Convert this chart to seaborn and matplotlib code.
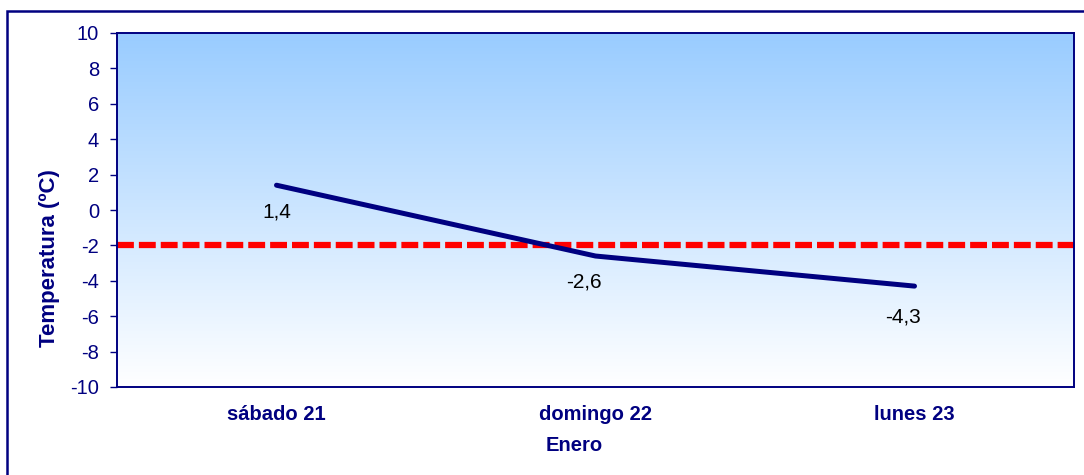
import numpy as np
import matplotlib
matplotlib.use("Agg")
import matplotlib.pyplot as plt
import seaborn as sns
from matplotlib.patches import Rectangle

# datos
dias = ["sábado 21", "domingo 22", "lunes 23"]
temperaturas = [1.4, -2.6, -4.3]
etiquetas = ["1,4", "-2,6", "-4,3"]
umbral = -2
y_ticks = list(range(-10, 11, 2))

sns.set_style("white")
plt.rcParams['font.family'] = ['Liberation Sans', 'DejaVu Sans']

navy = "#000080"

fig = plt.figure(figsize=(10.84, 4.75), dpi=100)
ax = fig.add_axes([117 / 1084, 1 - 387 / 475, (1074 - 117) / 1084, (387 - 33) / 475])

# borde exterior
fig.patches.append(Rectangle((7 / 1084, -0.2), 1.2, 1.2 - 11 / 475,
                             transform=fig.transFigure, fill=False,
                             edgecolor=navy, linewidth=1.8, zorder=0))

# fondo degradado
grad = np.linspace(0, 1, 256).reshape(-1, 1)
cmap = matplotlib.colors.LinearSegmentedColormap.from_list("g", ["#99CCFF", "#FFFFFF"])
ax.imshow(grad, aspect="auto", cmap=cmap, extent=[0, 1, 0, 1],
          transform=ax.transAxes, zorder=0)

x = np.arange(len(dias))
sns.lineplot(x=x, y=temperaturas, ax=ax, color=navy, linewidth=3.6, zorder=3)
ax.axhline(umbral, color="#FF0000", linewidth=4.5, linestyle=(0, (2.7, 0.8)), zorder=2)

for xi, yi, txt in zip(x, temperaturas, etiquetas):
    dx = -8 if yi < 0 else 0
    dy = -22 if yi < -4 else -19
    ax.annotate(txt, (xi, yi), xytext=(dx, dy), textcoords="offset points",
                ha="center", va="center", fontsize=15, color="black")

ax.set_xlim(-0.5, 2.5)
ax.set_ylim(-10, 10)
ax.set_yticks(y_ticks)
ax.set_yticklabels([str(t) for t in y_ticks], fontsize=14.5, color=navy)
ax.set_xticks(x)
ax.set_xticklabels(dias, fontsize=14.5, fontweight="bold", color=navy)
ax.tick_params(axis="y", length=5, width=1, color=navy, direction="out", pad=8, left=True)
ax.tick_params(axis="x", length=0, pad=13)
ax.set_xlabel("Enero", fontsize=14.5, fontweight="bold", color=navy)
ax.xaxis.set_label_coords(0.478, -0.164)
ax.xaxis.label.set_verticalalignment("center")
ax.set_ylabel("Temperatura (ºC)", fontsize=16, fontweight="bold", color=navy)
ax.yaxis.set_label_coords(-0.071, 0.364)
ax.yaxis.label.set_verticalalignment("center")

for s in ax.spines.values():
    s.set_color(navy)
    s.set_linewidth(1.4)

fig.savefig("out.png", dpi=100)
